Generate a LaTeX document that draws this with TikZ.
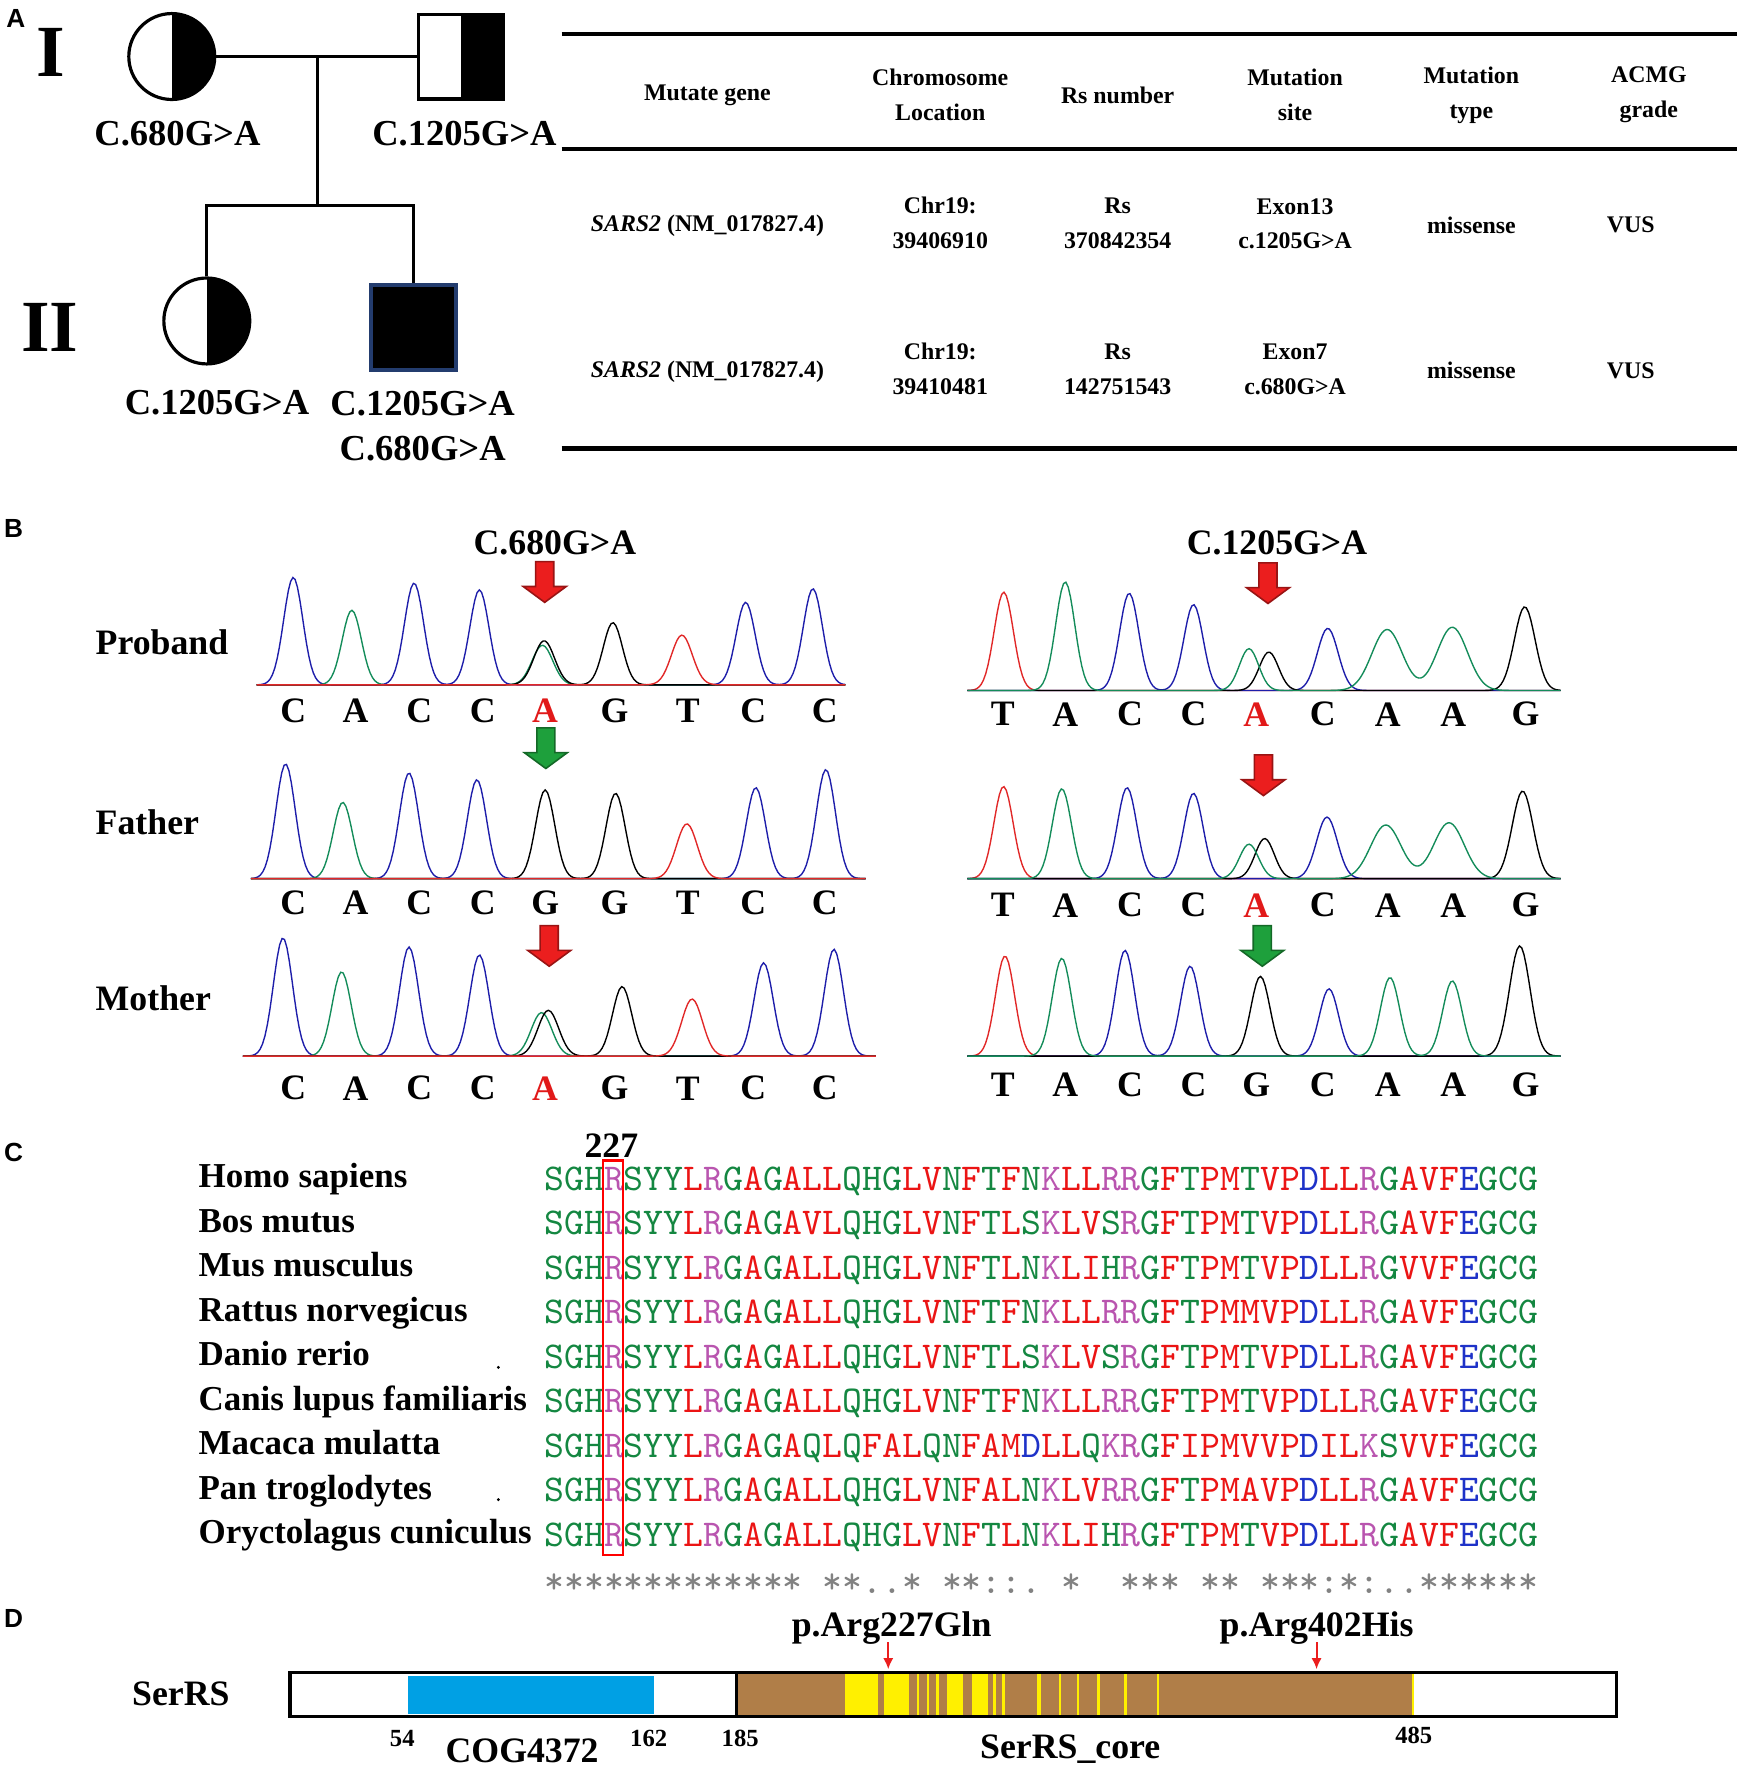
\documentclass[tikz,border=0pt]{standalone}
\usepackage{fontspec}
\setmainfont{Liberation Serif}
\newfontfamily\panelfont{Liberation Sans}
\usetikzlibrary{arrows.meta}

\definecolor{trA}{RGB}{20,140,90}
\definecolor{trC}{RGB}{30,30,170}
\definecolor{trT}{RGB}{225,40,40}
\colorlet{trG}{black}
\definecolor{mutred}{RGB}{225,25,25}
\definecolor{arrred}{RGB}{235,30,30}
\definecolor{arrgreen}{RGB}{30,160,60}
\definecolor{sonedge}{RGB}{35,60,110}
\definecolor{aagreen}{RGB}{20,135,65}
\definecolor{aared}{RGB}{235,20,20}
\definecolor{aamag}{RGB}{185,85,175}
\definecolor{aablue}{RGB}{30,50,200}
\definecolor{consgray}{RGB}{130,130,130}
\definecolor{cogblue}{RGB}{0,160,228}
\definecolor{corebrown}{RGB}{176,126,72}
\definecolor{coreyellow}{RGB}{255,240,0}

% residue colours
\colorlet{aaA}{aared}\colorlet{aaV}{aared}\colorlet{aaF}{aared}\colorlet{aaP}{aared}
\colorlet{aaM}{aared}\colorlet{aaI}{aared}\colorlet{aaL}{aared}\colorlet{aaW}{aared}
\colorlet{aaD}{aablue}\colorlet{aaE}{aablue}
\colorlet{aaR}{aamag}\colorlet{aaK}{aamag}
\colorlet{aaS}{aagreen}\colorlet{aaT}{aagreen}\colorlet{aaY}{aagreen}\colorlet{aaH}{aagreen}
\colorlet{aaC}{aagreen}\colorlet{aaN}{aagreen}\colorlet{aaG}{aagreen}\colorlet{aaQ}{aagreen}

\newcommand{\aaseq}[1]{\aaseqstep#1\relax}
\newcommand{\aaseqstep}[1]{\ifx\relax#1\else\textcolor{aa#1}{#1}\expandafter\aaseqstep\fi}

% one dye trace: colour, baseline, from, to, peaks x/top/width
\newcommand{\chromtrace}[5]{%
  \gdef\trexpr{0}%
  \foreach \qx/\qy/\qs in {#5}{%
    \xdef\trexpr{\unexpanded\expandafter{\trexpr}+(#2-\qy)*exp(-min(((\noexpand\x-\qx)/\qs)^2,20))}}%
  \draw [#1, line width=0.35pt] plot [domain=#3:#4, samples=260] (\x,{#2-(\trexpr)});
}

% called bases under a trace
\newcommand{\baserow}[3]{%
  \foreach \nb/\nx/\nc [count=\i] in {#3}
    \node [basetxt, text=\nc] (#1\i) at (\nx,#2) {\nb};
}

% block arrow: x, top, colour
\newcommand{\mutarrow}[3]{%
  \filldraw [fill=#3, draw=#3!65!black, line width=0.4pt]
    ({#1-8},#2) -- ({#1+8},#2) -- ({#1+8},{#2+22}) -- ({#1+19},{#2+22})
    -- (#1,{#2+36}) -- ({#1-19},{#2+22}) -- ({#1-8},{#2+22}) -- cycle;
}

\begin{document}
\begin{tikzpicture}[%
      x=0.01cm,
      y=-0.01cm,
      female/.style={circle, draw, line width=0.8pt, minimum size=0.76cm, inner sep=0pt},
      male/.style={rectangle, draw, line width=0.8pt, minimum size=0.75cm, inner sep=0pt},
      carrier/.style={path picture={\fill (path picture bounding box.north) rectangle (path picture bounding box.south east);}},
      affected/.style={fill=black, draw=sonedge, line width=1pt},
      pedline/.style={line width=0.7pt},
      pedtxt/.style={font=\fontsize{9.2}{11.4}\selectfont\bfseries, align=center, inner sep=0pt},
      gen/.style={font=\fontsize{18.5}{20}\selectfont\bfseries, inner sep=0pt},
      panel/.style={font=\panelfont\fontsize{6.6}{8}\selectfont\bfseries, inner sep=0pt},
      tabrule/.style={line width=1.1pt},
      tabtxt/.style={font=\fontsize{6}{8.8}\selectfont\bfseries, align=center, inner sep=0pt},
      lbl/.style={font=\fontsize{9}{11}\selectfont\bfseries, inner sep=0pt},
      species/.style={font=\fontsize{8.8}{11}\selectfont\bfseries, inner sep=0pt, anchor=base west},
      basetxt/.style={font=\fontsize{9}{11}\selectfont\bfseries, inner sep=0pt},
      seqtxt/.style={font=\ttfamily\fontsize{9.53}{11}\selectfont, inner sep=0pt},
      small/.style={font=\fontsize{6.2}{8}\selectfont\bfseries, inner sep=0pt},
      mutpt/.style={-{Latex[length=2.8pt,width=2.6pt]}, arrred, line width=0.5pt},
      ]
      \useasboundingbox (0,0) rectangle (1542,1568);

      % A: pedigree
      \node [panel] (pA) at (14,16) {A};
      \node [gen] (genI) at (45,46) {I};
      \node [gen] (genII) at (44,290) {II};
      \node [female, carrier] (mother) at (152,50) {};
      \node [male, carrier] (father) at (408,50) {};
      \node [female, carrier] (daughter) at (183,284) {};
      \node [male, affected] (proband) at (366,290) {};
      \coordinate (mate) at (281,50);
      \coordinate (sib) at (281,182);
      \draw [pedline] (mother) -- (father);
      \draw [pedline] (mate) -- (sib);
      \draw [pedline] (daughter.north) |- (sib) -| (proband.north);
      \node [pedtxt] (gMother) at (157,118) {C.680G>A};
      \node [pedtxt] (gFather) at (411,118) {C.1205G>A};
      \node [pedtxt] (gDaughter) at (192,356) {C.1205G>A};
      \node [pedtxt] (gProband) at (374,377) {C.1205G>A\\C.680G>A};

      % A: variant table
      \draw [tabrule] (497,30) -- (1537,30);
      \draw [tabrule] (497,132) -- (1537,132);
      \draw [tabrule] (497,397) -- (1537,397);
      \node [tabtxt] (hGene) at (626,84) {Mutate gene};
      \node [tabtxt] (hChr) at (832,84) {Chromosome\\Location};
      \node [tabtxt] (hRs) at (989,84) {Rs number};
      \node [tabtxt] (hSite) at (1146,84) {Mutation\\site};
      \node [tabtxt] (hType) at (1302,84) {Mutation\\type};
      \node [tabtxt] (hGrade) at (1459,84) {ACMG\\grade};
      \node [tabtxt] (aGene) at (626,200) {\textit{SARS2} (NM\_017827.4)};
      \node [tabtxt] (aChr) at (832,197) {Chr19:\\39406910};
      \node [tabtxt] (aRs) at (989,198) {Rs\\370842354};
      \node [tabtxt] (aSite) at (1146,198) {Exon13\\c.1205G>A};
      \node [tabtxt] (aType) at (1302,199) {missense};
      \node [tabtxt] (aGrade) at (1443,199) {VUS};
      \node [tabtxt] (bGene) at (626,329) {\textit{SARS2} (NM\_017827.4)};
      \node [tabtxt] (bChr) at (832,326) {Chr19:\\39410481};
      \node [tabtxt] (bRs) at (989,327) {Rs\\142751543};
      \node [tabtxt] (bSite) at (1146,327) {Exon7\\c.680G>A};
      \node [tabtxt] (bType) at (1302,328) {missense};
      \node [tabtxt] (bGrade) at (1443,328) {VUS};

      % B: sequencing traces
      \node [panel] (pB) at (12,468) {B};
      \node [lbl] (hLeft) at (491,480) {C.680G>A};
      \node [lbl] (hRight) at (1130,480) {C.1205G>A};
      \node [lbl, anchor=west] (rowP) at (84,568) {Proband};
      \node [lbl, anchor=west] (rowF) at (84,728) {Father};
      \node [lbl, anchor=west] (rowM) at (84,883) {Mother};

      % c.680, proband
      \chromtrace{trC}{606}{227}{748}{259.5/511/12, 366.4/516/12, 424.2/522/12, 659.8/533/12, 719.3/521/12}
      \chromtrace{trA}{606}{227}{748}{311.3/540/12, 480/571/13}
      \chromtrace{trG}{606}{227}{748}{481.5/567/13, 542.3/551/12}
      \chromtrace{trT}{606}{227}{748}{603.4/562/13}
      % c.680, father
      \chromtrace{trC}{777.5}{222}{766}{252.7/676/12, 361.9/684/12, 422/690/12, 668.8/697/12, 730.8/681/12}
      \chromtrace{trA}{777.5}{222}{766}{303.3/710/12}
      \chromtrace{trG}{777.5}{222}{766}{482.4/699/12, 544.7/702/12}
      \chromtrace{trT}{777.5}{222}{766}{607.8/729/13}
      % c.680, mother
      \chromtrace{trC}{934.5}{215}{775}{250.4/830/12, 361.9/838/12, 424.2/845/12, 675.7/852/12, 737.9/840/12}
      \chromtrace{trA}{934.5}{215}{775}{302.3/860/12, 479.2/896/13}
      \chromtrace{trG}{934.5}{215}{775}{485.2/894/13, 550.5/873/12}
      \chromtrace{trT}{934.5}{215}{775}{612.4/884/13}
      % c.1205, proband
      \chromtrace{trT}{611}{856}{1381}{888.2/524/12}
      \chromtrace{trC}{611}{856}{1381}{999.2/525/12, 1056.1/535/12, 1174.9/556/13}
      \chromtrace{trG}{611}{856}{1381}{1122.8/577/12, 1349.2/537/13}
      \chromtrace{trA}{611}{856}{1381}{942.6/515/12, 1105.2/574/12, 1227.4/557/19, 1285.1/555/19}
      % c.1205, father
      \chromtrace{trT}{777.5}{856}{1381}{888/696/12}
      \chromtrace{trC}{777.5}{856}{1381}{997.3/697/12, 1056.1/702/12, 1174.2/723/13}
      \chromtrace{trG}{777.5}{856}{1381}{1119.1/742/12, 1347.3/700/13}
      \chromtrace{trA}{777.5}{856}{1381}{939.6/698/12, 1105.2/747/12, 1226.3/730/19, 1282.2/728/19}
      % c.1205, mother
      \chromtrace{trT}{934.5}{856}{1381}{889.3/846/12}
      \chromtrace{trC}{934.5}{856}{1381}{995.5/841/12, 1053.1/855/12, 1176/875/12}
      \chromtrace{trG}{934.5}{856}{1381}{1115.3/864/12, 1344.8/837/13}
      \chromtrace{trA}{934.5}{856}{1381}{939.6/848/12, 1230/865/12, 1285.1/868/12}

      \baserow{lP}{629}{C/259.5/black, A/314.5/black, C/371/black, C/427.3/black, A/482.4/mutred, G/543.8/black, T/608.7/black, C/666.6/black, C/729.9/black}
      \baserow{lF}{799}{C/259.5/black, A/314.5/black, C/371/black, C/427.3/black, G/482.4/black, G/543.8/black, T/608.7/black, C/666.6/black, C/729.9/black}
      \baserow{lM}{963}{C/259.5/black, A/314.5/black, C/371/black, C/427.3/black, A/482.4/mutred, G/543.8/black, T/608.7/black, C/666.6/black, C/729.9/black}
      \baserow{rP}{632}{T/887.4/black, A/942.6/black, C/999.9/black, C/1056.1/black, A/1111.6/mutred, C/1170.5/black, A/1228.1/black, A/1285.9/black, G/1350/black}
      \baserow{rF}{801}{T/887.4/black, A/942.6/black, C/999.9/black, C/1056.1/black, A/1111.6/mutred, C/1170.5/black, A/1228.1/black, A/1285.9/black, G/1350/black}
      \baserow{rM}{960}{T/887.4/black, A/942.6/black, C/999.9/black, C/1056.1/black, G/1111.6/black, C/1170.5/black, A/1228.1/black, A/1285.9/black, G/1350/black}

      \mutarrow{482}{497}{arrred}
      \mutarrow{483}{644}{arrgreen}
      \mutarrow{486}{819}{arrred}
      \mutarrow{1122}{498}{arrred}
      \mutarrow{1118}{668}{arrred}
      \mutarrow{1117}{819}{arrgreen}

      % C: alignment
      \node [panel] (pC) at (12,1020) {C};
      \node [lbl] (pos227) at (541,1014) {227};
      \foreach \sp/\sq [count=\i] in {%
          Homo sapiens/SGHRSYYLRGAGALLQHGLVNFTFNKLLRRGFTPMTVPDLLRGAVFEGCG,
          Bos mutus/SGHRSYYLRGAGAVLQHGLVNFTLSKLVSRGFTPMTVPDLLRGAVFEGCG,
          Mus musculus/SGHRSYYLRGAGALLQHGLVNFTLNKLIHRGFTPMTVPDLLRGVVFEGCG,
          Rattus norvegicus/SGHRSYYLRGAGALLQHGLVNFTFNKLLRRGFTPMMVPDLLRGAVFEGCG,
          Danio rerio/SGHRSYYLRGAGALLQHGLVNFTLSKLVSRGFTPMTVPDLLRGAVFEGCG,
          Canis lupus familiaris/SGHRSYYLRGAGALLQHGLVNFTFNKLLRRGFTPMTVPDLLRGAVFEGCG,
          Macaca mulatta/SGHRSYYLRGAGAQLQFALQNFAMDLLQKRGFIPMVVPDILKSVVFEGCG,
          Pan troglodytes/SGHRSYYLRGAGALLQHGLVNFALNKLVRRGFTPMAVPDLLRGAVFEGCG,
          Oryctolagus cuniculus/SGHRSYYLRGAGALLQHGLVNFTLNKLIHRGFTPMTVPDLLRGAVFEGCG}
      {
        \node [species] (sp\i) at (175,{1051+39.4*(\i-1)}) {\sp};
        \node [seqtxt, anchor=base west] (sq\i) at (481,{1053+39.4*(\i-1)}) {\expandafter\aaseq\expandafter{\sq}};
      }
      \node [seqtxt, text=consgray, anchor=base west] (cons) at (481,1410) {*************~**..*~**::.~*~~***~**~***:*:..******};
      \draw [color=red, line width=0.6pt] (533.7,1027) rectangle (551.3,1376);
      \fill (441,1210) circle (1.4);
      \fill (441,1327) circle (1.4);

      % D: domains
      \node [panel] (pD) at (12,1432) {D};
      \node [lbl] (serrs) at (160,1499) {SerRS};
      \fill [cogblue] (360.6,1483) rectangle (579,1517);
      \fill [corebrown] (651.6,1481) rectangle (1250.8,1518);
      \foreach \ya/\yb in {747.6/776.8, 782/804, 811.3/813, 820/822, 828/831, 838/852, 860/874,
          878.5/881, 886.5/889, 918/921, 937/939, 953/955, 971/973, 995/997, 1024/1026, 1249.5/1251}
        \fill [coreyellow] (\ya,1481) rectangle (\yb,1518);
      \draw [line width=0.6pt] (651.6,1480) -- (651.6,1519);
      \node [draw, line width=0.9pt, minimum width=11.73cm, minimum height=0.39cm, inner sep=0pt] (bar) at (843.5,1499.5) {};
      \node [small] (n54) at (356,1538) {54};
      \node [small] (n162) at (574,1538) {162};
      \node [small] (n185) at (655,1538) {185};
      \node [small] (n485) at (1251,1536) {485};
      \node [lbl] (cog) at (462,1549) {COG4372};
      \node [lbl] (core) at (947,1548) {SerRS\_core};
      \node [lbl] (m227) at (789,1441) {p.Arg227Gln};
      \node [lbl] (m402) at (1165,1441) {p.Arg402His};
      \coordinate (s227) at (786,1453);
      \coordinate (e227) at (786,1477);
      \coordinate (s402) at (1165,1453);
      \coordinate (e402) at (1165,1477);
      \draw [mutpt] (s227) -- (e227);
      \draw [mutpt] (s402) -- (e402);
\end{tikzpicture}
\end{document}
